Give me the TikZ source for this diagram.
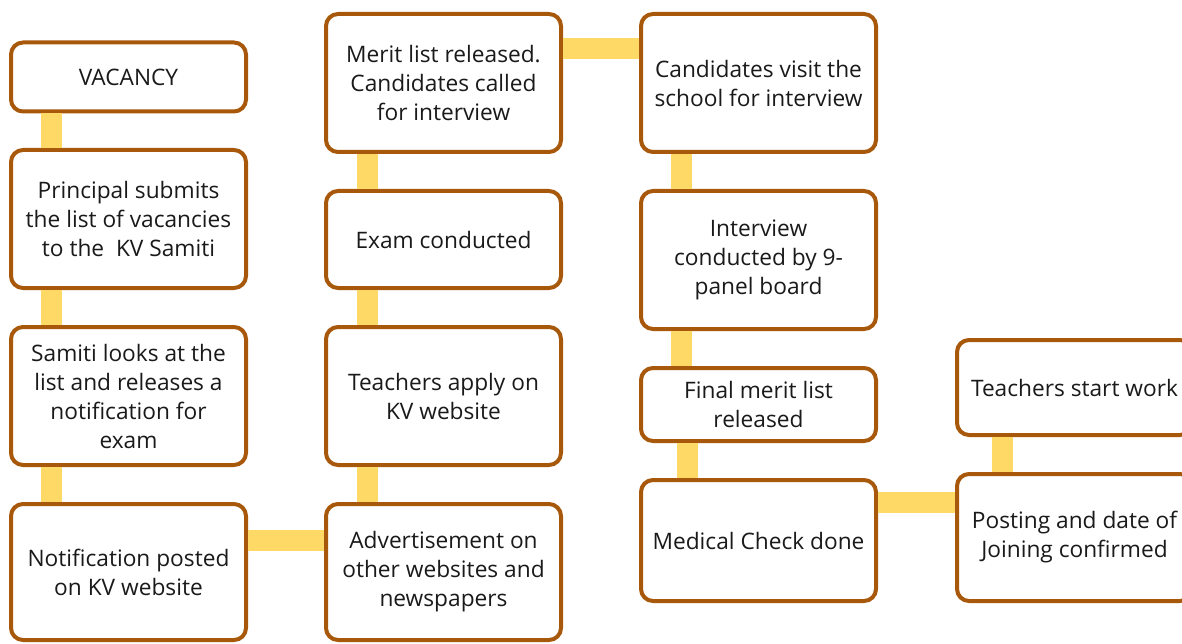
\documentclass[tikz,border=0pt]{standalone}
\usepackage{fontspec}
\setmainfont{Open Sans}
\usepackage{tikz}
\usetikzlibrary{positioning}
\definecolor{boxbrown}{RGB}{168,88,10}
\definecolor{linkyellow}{RGB}{255,217,102}
\definecolor{ink}{RGB}{26,26,26}

\begin{document}
\begin{tikzpicture}[x=1pt,y=-1pt]
                \tikzstyle{every node}+=[inner sep=0pt]
                \tikzstyle{box}=[draw=boxbrown,line width=4pt,rounded corners=12pt,fill=white,
                  text=ink,align=center,font=\fontsize{22.7}{29}\selectfont,minimum width=235pt]
                \tikzstyle{link}=[draw=linkyellow,line width=21pt]
                \useasboundingbox (0,0) rectangle (1182,644);
                \clip (0,0) rectangle (1182,644);
                % first column
                \node [box,minimum height=69pt] (vacancy) at (128.5,77) {VACANCY};
                \node [box,minimum height=138pt] (principal) at (128.5,219) {Principal submits\\the list of vacancies\\to the\ \ KV Samiti};
                \node [box,minimum height=138pt] (samiti) at (128.5,396) {Samiti looks at the\\list and releases a\\notification for\\exam};
                \node [box,minimum height=136pt] (notice) at (128.5,572) {Notification posted\\on KV website};
                % second column
                \node [box,minimum height=136pt] (advert) at (443.5,572) {Advertisement on\\other websites and\\newspapers};
                \node [box,minimum height=138pt] (apply) at (443.5,396) {Teachers apply on\\KV website};
                \node [box,minimum height=97pt] (exam) at (443.5,239.5) {Exam conducted};
                \node [box,minimum height=138pt] (merit) at (443.5,83) {Merit list released.\\Candidates called\\for interview};
                % third column
                \node [box,minimum height=138pt] (visit) at (758.5,83) {Candidates visit the\\school for interview};
                \node [box,minimum height=138pt] (interview) at (758.5,260) {Interview\\conducted by 9-\\panel board};
                \node [box,minimum height=73pt] (final) at (758.5,404.5) {Final merit list\\released};
                \node [box,minimum height=121pt] (medical) at (758.5,540.5) {Medical Check done};
                % fourth column
                \node [box,minimum height=127pt] (posting) at (1074.5,537.5) {Posting and date of\\Joining confirmed};
                \node [box,minimum height=95pt] (start) at (1074.5,387.5) {Teachers start work};
                % links
                \draw [link] ([xshift=42]vacancy.south west) -- ([xshift=42]principal.north west);
                \draw [link] ([xshift=42]principal.south west) -- ([xshift=42]samiti.north west);
                \draw [link] ([xshift=42]samiti.south west) -- ([xshift=42]notice.north west);
                \draw [link] ([yshift=32]notice.east) -- ([yshift=32]advert.west);
                \draw [link] ([xshift=43]advert.north west) -- ([xshift=43]apply.south west);
                \draw [link] ([xshift=43]apply.north west) -- ([xshift=43]exam.south west);
                \draw [link] ([xshift=43]exam.north west) -- ([xshift=43]merit.south west);
                \draw [link] ([yshift=34]merit.east) -- ([yshift=34]visit.west);
                \draw [link] ([xshift=42]visit.south west) -- ([xshift=42]interview.north west);
                \draw [link] ([xshift=42]interview.south west) -- ([xshift=42]final.north west);
                \draw [link] ([xshift=48]final.south west) -- ([xshift=48]medical.north west);
                \draw [link] ([yshift=38]medical.east) -- ([yshift=38]medical.east -| posting.west);
                \draw [link] ([xshift=47]posting.north west) -- ([xshift=47]start.south west);
\end{tikzpicture}
\end{document}
